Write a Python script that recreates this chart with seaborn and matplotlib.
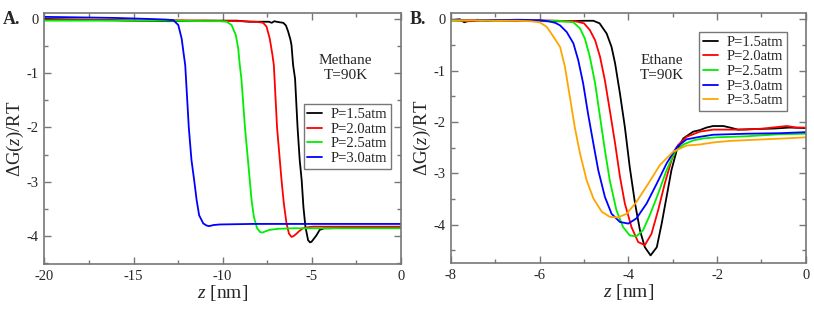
import pandas as pd
import matplotlib
matplotlib.use('Agg')
import matplotlib.pyplot as plt
import seaborn as sns
from matplotlib.ticker import MultipleLocator

# ---- Methane, T=90K (panel A) ----
meth_labels = ['P=1.5atm', 'P=2.0atm', 'P=2.5atm', 'P=3.0atm']
meth_colors = ['#000000', '#ff0000', '#00ee00', '#0000ff']

meth_z_15 = [-20, -18, -16, -15, -13, -11, -9.2, -8.5, -7.4, -7.25, -7.1, -6.98, -6.8, -6.6,
             -6.45, -6.33, -6.2, -6.14, -6.05, -5.94, -5.8, -5.68, -5.57, -5.47, -5.36, -5.21,
             -5.1, -5.02, -4.9, -4.74, -4.56, -4.3, -4.0, -3, -2, -1, 0]
meth_g_15 = [0.0, -0.01, -0.02, -0.03, -0.04, -0.03, -0.03, -0.05, -0.05, -0.07, -0.04, -0.05,
             -0.06, -0.07, -0.12, -0.23, -0.38, -0.48, -0.85, -1.1, -2.0, -2.6, -2.97, -3.47,
             -3.83, -4.08, -4.12, -4.11, -4.06, -3.99, -3.89, -3.86, -3.86, -3.85, -3.85, -3.85, -3.85]

meth_z_20 = [-20, -17, -15, -13, -11, -9, -8.2, -7.9, -7.73, -7.54, -7.36, -7.21, -7.13, -6.95,
             -6.70, -6.57, -6.42, -6.28, -6.14, -6.0, -5.86, -5.7, -5.49, -5.2, -4.93, -4, -2, 0]
meth_g_20 = [-0.02, -0.02, -0.03, -0.02, -0.03, -0.04, -0.05, -0.06, -0.07, -0.14, -0.36, -0.66,
             -0.85, -2.0, -2.97, -3.40, -3.77, -3.96, -4.02, -4.0, -3.96, -3.91, -3.86, -3.84,
             -3.83, -3.83, -3.83, -3.83]

meth_z_25 = [-20, -17, -15, -13, -11, -10.2, -9.78, -9.5, -9.26, -9.13, -9.04, -8.95, -8.75,
             -8.48, -8.38, -8.25, -8.07, -7.9, -7.77, -7.55, -7.36, -6.9, -6, -4, -2, 0]
meth_g_25 = [-0.03, -0.03, -0.03, -0.03, -0.04, -0.04, -0.05, -0.11, -0.30, -0.54, -0.85, -1.1,
             -2.0, -2.97, -3.34, -3.65, -3.86, -3.93, -3.94, -3.91, -3.89, -3.87, -3.86, -3.86,
             -3.86, -3.86]

meth_z_30 = [-20, -18, -16, -15, -14, -13.2, -12.77, -12.49, -12.30, -12.18, -12.10, -11.90,
             -11.75, -11.60, -11.46, -11.32, -11.09, -10.9, -10.76, -10.5, -10.16, -8.3, -6, -3, 0]
meth_g_30 = [0.04, 0.03, 0.02, 0.01, 0.0, -0.01, -0.02, -0.11, -0.36, -0.66, -0.85, -2.0, -2.6,
             -2.97, -3.34, -3.62, -3.77, -3.81, -3.82, -3.80, -3.79, -3.78, -3.78, -3.78, -3.78]

# ---- Ethane, T=90K (panel B) ----
eth_labels = ['P=1.5atm', 'P=2.0atm', 'P=2.5atm', 'P=3.0atm', 'P=3.5atm']
eth_colors = ['#000000', '#ff0000', '#00ee00', '#0000ff', '#ffa500']

eth_z_15 = [-8, -7.8, -7.7, -7.6, -7.4, -7.2, -7.0, -6.6, -6.2, -5.8, -5.4, -5.0, -4.79, -4.65,
            -4.49, -4.38, -4.30, -4.19, -4.08, -3.97, -3.85, -3.74, -3.63, -3.50, -3.36, -3.25,
            -3.14, -3.03, -2.91, -2.76, -2.54, -2.39, -2.24, -2.09, -1.86, -1.71, -1.53, -1.19,
            -0.74, -0.36, 0]
eth_g_15 = [-0.02, 0.0, -0.06, -0.03, -0.01, -0.03, -0.02, -0.03, -0.03, -0.04, -0.04, -0.03,
            -0.03, -0.08, -0.28, -0.54, -0.86, -1.45, -2.10, -2.88, -3.59, -4.11, -4.44, -4.60,
            -4.44, -3.98, -3.46, -2.94, -2.55, -2.32, -2.19, -2.16, -2.11, -2.08, -2.08, -2.11,
            -2.15, -2.14, -2.13, -2.11, -2.12]

eth_z_20 = [-8, -7.6, -7.2, -6.8, -6.4, -6.0, -5.6, -5.2, -5.0, -4.87, -4.75, -4.64, -4.53,
            -4.42, -4.30, -4.19, -4.08, -3.93, -3.78, -3.63, -3.48, -3.33, -3.18, -3.03, -2.88,
            -2.69, -2.39, -2.09, -1.71, -1.34, -0.96, -0.43, -0.21, 0]
eth_g_20 = [-0.02, -0.04, -0.02, -0.03, -0.03, -0.02, -0.03, -0.04, -0.08, -0.21, -0.41, -0.73,
            -1.19, -1.77, -2.42, -3.07, -3.59, -4.05, -4.34, -4.40, -4.18, -3.72, -3.20, -2.75,
            -2.45, -2.29, -2.19, -2.15, -2.15, -2.15, -2.13, -2.08, -2.11, -2.11]

eth_z_25 = [-8, -7.5, -7, -6.5, -6, -5.6, -5.24, -5.09, -4.98, -4.87, -4.75, -4.64, -4.53, -4.42,
            -4.27, -4.12, -3.97, -3.82, -3.67, -3.52, -3.33, -3.14, -2.95, -2.76, -2.54, -2.3,
            -2.0, -1.34, -0.59, 0]
eth_g_25 = [-0.03, -0.02, -0.03, -0.02, -0.03, -0.03, -0.06, -0.18, -0.38, -0.73, -1.25, -1.90,
            -2.55, -3.14, -3.72, -4.05, -4.21, -4.23, -4.11, -3.82, -3.40, -2.94, -2.58, -2.44,
            -2.36, -2.32, -2.30, -2.28, -2.24, -2.23]

eth_z_30 = [-8, -7.5, -7, -6.5, -6.0, -5.8, -5.65, -5.54, -5.39, -5.24, -5.13, -5.02, -4.91,
            -4.79, -4.68, -4.53, -4.38, -4.19, -4.00, -3.82, -3.59, -3.36, -3.14, -2.91, -2.69,
            -2.39, -2.09, -1.34, -0.59, 0]
eth_g_30 = [-0.01, -0.02, -0.02, -0.01, -0.02, -0.04, -0.07, -0.12, -0.25, -0.47, -0.80, -1.25,
            -1.84, -2.42, -2.94, -3.46, -3.79, -3.95, -3.98, -3.88, -3.59, -3.20, -2.81, -2.49,
            -2.34, -2.29, -2.25, -2.23, -2.22, -2.20]

eth_z_35 = [-8, -7.5, -7, -6.5, -6.2, -6.0, -5.84, -5.69, -5.54, -5.43, -5.32, -5.21, -5.09,
            -4.94, -4.79, -4.60, -4.42, -4.23, -4.04, -3.82, -3.55, -3.29, -2.99, -2.69, -2.39,
            -2.09, -1.71, -0.96, -0.43, 0]
eth_g_35 = [-0.02, -0.02, -0.03, -0.03, -0.04, -0.06, -0.15, -0.34, -0.54, -0.93, -1.51, -2.10,
            -2.62, -3.14, -3.49, -3.75, -3.85, -3.86, -3.79, -3.56, -3.20, -2.84, -2.58, -2.46,
            -2.44, -2.40, -2.37, -2.34, -2.32, -2.30]


def long_form(labels, zs, gs):
    parts = [pd.DataFrame({'z': z, 'G': g, 'P': lab}) for lab, z, g in zip(labels, zs, gs)]
    return pd.concat(parts, ignore_index=True)


df_meth = long_form(meth_labels, [meth_z_15, meth_z_20, meth_z_25, meth_z_30],
                    [meth_g_15, meth_g_20, meth_g_25, meth_g_30])
df_eth = long_form(eth_labels, [eth_z_15, eth_z_20, eth_z_25, eth_z_30, eth_z_35],
                   [eth_g_15, eth_g_20, eth_g_25, eth_g_30, eth_g_35])

sns.set_style('ticks')
plt.rcParams['font.family'] = ['Liberation Serif', 'DejaVu Serif']
plt.rcParams['mathtext.fontset'] = 'custom'
plt.rcParams['mathtext.rm'] = 'Liberation Serif'
plt.rcParams['mathtext.it'] = 'Liberation Serif:italic'
plt.rcParams['axes.unicode_minus'] = False

fig = plt.figure(figsize=(8.14, 3.11), dpi=100)
axA = fig.add_axes([0.0545, 0.151, 0.4381, 0.807])
axB = fig.add_axes([0.554, 0.154, 0.436, 0.804])

frame = '#777777'


def style(ax, xlim, ylim, xmaj, xmin):
    ax.set_xlim(*xlim)
    ax.set_ylim(*ylim)
    ax.xaxis.set_major_locator(MultipleLocator(xmaj))
    ax.xaxis.set_minor_locator(MultipleLocator(xmin))
    ax.yaxis.set_major_locator(MultipleLocator(1))
    ax.yaxis.set_minor_locator(MultipleLocator(0.5))
    ax.tick_params(which='both', direction='in', top=True, right=True, color=frame,
                   labelsize=10.5, pad=4)
    ax.tick_params(which='major', length=5, width=1)
    ax.tick_params(which='minor', length=3, width=1)
    for s in ax.spines.values():
        s.set_color(frame)
        s.set_linewidth(1.2)
    ax.set_xlabel(r'$z$ [nm]', fontsize=14, labelpad=0)
    ax.set_ylabel(r'$\Delta$G($z$)/RT', fontsize=13.5, labelpad=0.5)


sns.lineplot(data=df_meth, x='z', y='G', hue='P', palette=meth_colors, sort=False,
             estimator=None, lw=1.3, ax=axA)
sns.lineplot(data=df_eth, x='z', y='G', hue='P', palette=eth_colors, sort=False,
             estimator=None, lw=1.3, ax=axB)

style(axA, (-20, 0), (-4.52, 0.11), 5, 2.5)
style(axB, (-8, 0), (-4.75, 0.12), 2, 1)

leg_kw = dict(loc='upper left', fontsize=10.5, handlelength=1.0, handletextpad=0.6,
              labelspacing=0.1, borderpad=0.25, borderaxespad=0, fancybox=False,
              edgecolor=frame, framealpha=1, title=None)
legA = axA.legend(bbox_to_anchor=(0.727, 0.637), **leg_kw)
legB = axB.legend(bbox_to_anchor=(0.70, 0.925), **leg_kw)
for leg in (legA, legB):
    leg.get_frame().set_linewidth(1.0)

axA.text(-3.1, -0.9, 'Methane\nT=90K', ha='center', va='center', fontsize=11, linespacing=1.25)
axB.text(-3.25, -0.95, 'Ethane\nT=90K', ha='center', va='center', fontsize=11, linespacing=1.25)

fig.text(0.004, 0.922, 'A.', fontsize=13, fontweight='bold')
fig.text(0.503, 0.922, 'B.', fontsize=13, fontweight='bold')

fig.savefig('out.png', dpi=100)
